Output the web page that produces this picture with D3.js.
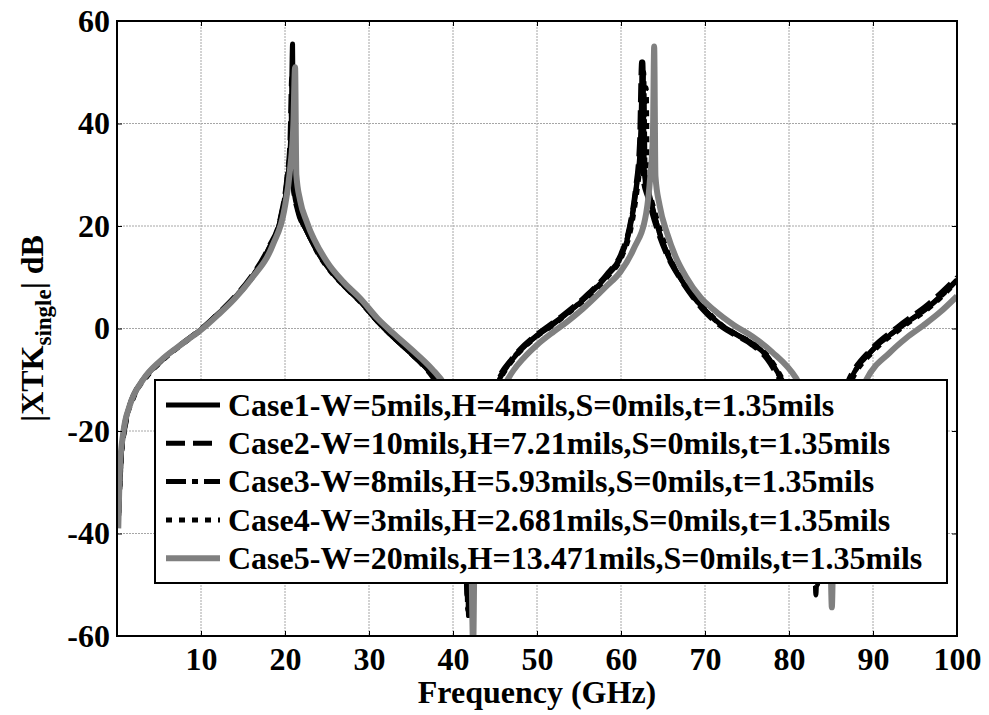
<!DOCTYPE html>
<html>
<head>
<meta charset="utf-8">
<script src="https://cdn.jsdelivr.net/npm/d3@7"></script>
<style>
  body { margin: 0; background: #fff; }
  text { font-family: "Liberation Serif", "Times New Roman", serif; font-weight: bold; fill: #000; }
</style>
</head>
<body>
<div id="chart"></div>
<script>
// values: [frequency GHz, |XTK| dB]
const case1 = [[0.15,-38],[0.4,-27],[0.75,-20.5],[1.5,-15],[3,-10.2],[5,-6.6],[8,-2.7],[10,-0.2],[12,2.8],[14,6],[16,9.9],[18,15.3],[19.5,21.5],[20.3,29],[20.7,37],[20.9,55.5],[21.05,29],[21.6,23],[22.6,19],[24,14.6],[25,12.2],[27,8.4],[29,5.2],[31,1.4],[32.5,-1.1],[35,-4.8],[37.3,-8.6],[39,-12.8],[40.5,-19.5],[41.3,-28],[41.7,-40],[41.85,-56],[42,-40],[42.4,-30],[43.5,-19.5],[45.5,-10],[47,-6.2],[48.5,-3.5],[50,-1.4],[51.6,0.4],[53,2.2],[55.5,5.6],[58.3,10.2],[60,14],[61,19],[61.8,27],[62.3,36],[62.6,52],[62.8,30],[63.4,26],[64.5,19],[65.7,14],[67,10],[68.5,6.5],[70.1,3.4],[72,0.6],[73.5,-0.9],[75.6,-2.9],[77.5,-5.6],[78.9,-9.3],[80.5,-14],[81.8,-20],[82.7,-28],[83.2,-38],[83.4,-50],[83.6,-40],[84.2,-28],[85.5,-18],[87.3,-10],[90,-4.1],[93.2,0.2],[96.8,4.5],[100,9.5]];

const case2 = [[0.2,-36],[0.5,-25],[1,-18.5],[2,-13],[3.5,-9.2],[5.5,-5.9],[8,-2.6],[10,-0.1],[12,2.9],[14,6.2],[16,10.2],[18,15.7],[19.5,22],[20.2,29],[20.6,37],[20.8,49],[20.95,28],[21.5,23],[22.5,19.3],[24,14.9],[25,12.5],[27,8.6],[29,5.4],[31,1.5],[32.5,-1],[35,-4.9],[37.2,-8.7],[39,-13.2],[40.4,-19.5],[41.2,-28],[41.5,-40],[41.65,-52],[41.8,-40],[42.2,-30],[43.3,-19.5],[45.3,-10],[47,-5.9],[48.5,-3.2],[50,-1.1],[51.5,0.7],[53,2.5],[55.5,5.9],[58.3,10.6],[60,14.6],[61,19.8],[61.7,27],[62.2,36],[62.45,52],[62.65,29],[63.2,25.5],[64.3,19.3],[65.5,14.2],[67,9.8],[68.5,6.2],[70,3.2],[72,0.3],[73.5,-1.2],[75.5,-3.1],[77.4,-6],[78.8,-9.7],[80.4,-14.5],[81.7,-20.5],[82.6,-28],[83,-38],[83.2,-52],[83.4,-40],[84,-28],[85.3,-18],[87.1,-10],[89.8,-4],[93,0.4],[96.6,4.8],[100,10]];

const case3 = [[0.2,-36],[0.5,-25.5],[1,-18.8],[2,-13.2],[3.5,-9.4],[5.5,-6],[8,-2.7],[10,-0.2],[12,2.8],[14,6],[16,9.9],[18,15.4],[19.5,21.7],[20.3,30],[20.7,38],[20.85,46],[21,28],[21.6,22.8],[22.6,19],[24,14.6],[25,12.2],[27,8.4],[29,5.2],[31,1.4],[32.5,-1.1],[35,-4.9],[37.3,-8.7],[39,-12.9],[40.5,-19.7],[41.3,-28.5],[41.6,-40],[41.75,-55],[41.9,-40],[42.3,-30],[43.4,-19.5],[45.4,-10],[47,-6.1],[48.5,-3.4],[50,-1.3],[51.5,0.5],[53,2.3],[55.5,5.7],[58.3,10.4],[60,14.3],[61,19.4],[61.8,27.5],[62.4,37],[62.7,50],[62.9,28],[63.5,24.8],[64.6,18.6],[65.7,13.8],[67,10],[68.5,6.4],[70.1,3.4],[72,0.5],[73.5,-1],[75.6,-3],[77.5,-5.7],[78.9,-9.4],[80.5,-14.2],[81.8,-20.2],[82.8,-28.5],[83.2,-38],[83.4,-48],[83.6,-40],[84.2,-28],[85.5,-18],[87.3,-10],[90,-4.1],[93.2,0.2],[96.8,4.4],[100,9.4]];

const case4 = [[0.2,-36.5],[0.5,-25.8],[1,-19],[2,-13.4],[3.5,-9.5],[5.5,-6.1],[8,-2.8],[10,-0.3],[12,2.7],[14,5.9],[16,9.7],[18,15.1],[19.5,21.3],[20.4,30],[20.8,38],[20.95,43],[21.1,28],[21.7,22.6],[22.7,18.8],[24,14.4],[25,12],[27,8.3],[29,5.1],[31,1.4],[32.6,-1.2],[35,-4.9],[37.4,-8.8],[39.1,-13],[40.6,-19.9],[41.4,-29],[41.75,-40],[41.9,-57],[42.05,-40],[42.5,-30],[43.6,-19.5],[45.6,-10],[47.1,-6.2],[48.6,-3.5],[50.1,-1.4],[51.7,0.4],[53.1,2.2],[55.6,5.5],[58.4,10.1],[60.1,14],[61.2,19.6],[62,28],[62.6,37],[63,47],[63.15,28],[63.7,24.7],[64.8,18.5],[65.9,13.5],[67.2,9.8],[68.7,6.3],[70.3,3.3],[72.2,0.4],[73.7,-1.1],[75.8,-3],[77.7,-5.8],[79.1,-9.5],[80.7,-14.3],[82,-20.4],[82.9,-28.5],[83.4,-38],[83.6,-50],[83.8,-40],[84.4,-28],[85.7,-18],[87.5,-10],[90.2,-4.2],[93.4,0.1],[96.9,4.3],[100,9.2]];

const case5 = [[0.15,-39],[0.36,-27],[0.75,-20.3],[1.5,-15.1],[3.1,-10],[5.1,-6.4],[7.9,-2.8],[10,-0.3],[12,2.6],[14,5.8],[15.9,9.5],[18.6,16.5],[19.9,23],[20.6,31],[21,40],[21.2,51],[21.35,30],[21.8,25],[22.6,20.8],[25,13],[27,9],[29,5.8],[31,2],[32.8,-0.8],[35,-4],[37.5,-7.9],[39,-11],[40.6,-17.5],[41.5,-25],[42.1,-36],[42.4,-62],[42.6,-38],[43.2,-28],[44.5,-18],[46.5,-10],[48.5,-5.6],[50,-3.2],[52,-0.6],[53.5,1.2],[55.5,3.9],[58.3,8.3],[59.9,11],[61.5,15.5],[63,22.5],[63.5,30],[63.8,38],[63.95,55],[64.1,29.7],[64.6,24],[65.5,18.5],[66.5,14],[67.7,10.2],[69.5,6],[71,3.7],[73.5,0.6],[75.6,-1.5],[78,-4.6],[80.8,-9.6],[82.5,-15],[83.8,-22],[84.5,-30],[84.9,-40],[85.1,-54.4],[85.3,-40],[86,-28],[87.3,-18],[89.2,-10],[92,-4.7],[94,-1.8],[96,0.6],[98,3.2],[100,6.3]];

const seriesNames = [
  "Case1-W=5mils,H=4mils,S=0mils,t=1.35mils",
  "Case2-W=10mils,H=7.21mils,S=0mils,t=1.35mils",
  "Case3-W=8mils,H=5.93mils,S=0mils,t=1.35mils",
  "Case4-W=3mils,H=2.681mils,S=0mils,t=1.35mils",
  "Case5-W=20mils,H=13.471mils,S=0mils,t=1.35mils"
];
const xTicks = [10, 20, 30, 40, 50, 60, 70, 80, 90, 100];
const yTicks = [-60, -40, -20, 0, 20, 40, 60];

function main() {
  const width = 989, height = 715;
  const margin = {left: 117, top: 21, right: 32, bottom: 79};
  const w = width - margin.left - margin.right;
  const h = height - margin.top - margin.bottom;
  const serif = "'Liberation Serif','Times New Roman',serif";

  const svg = d3.select("#chart").append("svg")
    .attr("width", width).attr("height", height);

  const x = d3.scaleLinear().domain([0, 100]).range([0, w]);
  const y = d3.scaleLinear().domain([-60, 60]).range([h, 0]);

  const g = svg.append("g").attr("transform", `translate(${margin.left},${margin.top})`);

  svg.append("defs").append("clipPath").attr("id", "plotclip")
    .append("rect").attr("width", w).attr("height", h);

  // grid
  g.append("g").selectAll("line").data(xTicks).join("line")
    .attr("x1", d => x(d)).attr("x2", d => x(d)).attr("y1", 0).attr("y2", h)
    .attr("stroke", "#a6a6a6").attr("stroke-dasharray", "2,1");
  g.append("g").selectAll("line").data(yTicks).join("line")
    .attr("x1", 0).attr("x2", w).attr("y1", d => y(d)).attr("y2", d => y(d))
    .attr("stroke", "#a6a6a6").attr("stroke-dasharray", "2,1");

  // curves
  const styles = [
    {color: "#000", width: 5, dash: null},
    {color: "#000", width: 5, dash: "19,8"},
    {color: "#000", width: 5, dash: "20,6,6,6"},
    {color: "#000", width: 5, dash: "6,7"},
    {color: "#808080", width: 6, dash: null}
  ];
  const allSeries = [case1, case2, case3, case4, case5];
  const line = d3.line().x(d => x(d[0])).y(d => y(d[1])).curve(d3.curveMonotoneX);

  const plot = g.append("g").attr("clip-path", "url(#plotclip)");
  allSeries.forEach((s, i) => {
    plot.append("path").datum(s)
      .attr("d", line)
      .attr("fill", "none")
      .attr("stroke", styles[i].color)
      .attr("stroke-width", styles[i].width)
      .attr("stroke-dasharray", styles[i].dash)
      .attr("stroke-linejoin", "round");
  });

  // axes, ticks pointing inwards
  const fmt = d => String(d);
  g.append("g").attr("transform", `translate(0,${h})`)
    .call(d3.axisBottom(x).tickValues(xTicks).tickSize(-5).tickPadding(11).tickFormat(fmt));
  g.append("g").call(d3.axisTop(x).tickValues(xTicks).tickSize(-5).tickFormat(""));
  g.append("g")
    .call(d3.axisLeft(y).tickValues(yTicks).tickSize(-5).tickPadding(7).tickFormat(fmt));
  g.append("g").attr("transform", `translate(${w},0)`)
    .call(d3.axisRight(y).tickValues(yTicks).tickSize(-5).tickFormat(""));
  g.selectAll(".domain").remove();
  g.selectAll(".tick line").attr("stroke", "#000").attr("stroke-width", 1);
  g.selectAll(".tick text").style("font-size", "32px")
    .style("font-family", serif)
    .style("font-weight", "bold");

  g.append("rect").attr("width", w).attr("height", h)
    .attr("fill", "none").attr("stroke", "#000").attr("stroke-width", 2);

  // axis labels
  svg.append("text")
    .attr("x", margin.left + w / 2).attr("y", 703)
    .attr("text-anchor", "middle").style("font-size", "32px")
    .text("Frequency (GHz)");

  const ylab = svg.append("text")
    .attr("transform", `translate(43,${margin.top + h / 2}) rotate(-90)`)
    .attr("text-anchor", "middle").style("font-size", "32px");
  ylab.append("tspan").text("|XTK");
  ylab.append("tspan").attr("dy", 8).style("font-size", "23px").text("single");
  ylab.append("tspan").attr("dy", -8).text("| dB");

  // legend
  const lg = svg.append("g").attr("transform", "translate(155,380)");
  lg.append("rect").attr("width", 792).attr("height", 203)
    .attr("fill", "#fff").attr("stroke", "#000").attr("stroke-width", 2);
  seriesNames.forEach((name, i) => {
    const cy = 25 + i * 38.3;
    lg.append("line")
      .attr("x1", 11).attr("x2", 65).attr("y1", cy).attr("y2", cy)
      .attr("stroke", styles[i].color)
      .attr("stroke-width", styles[i].width)
      .attr("stroke-dasharray", styles[i].dash);
    lg.append("text")
      .attr("x", 73).attr("y", cy).attr("dy", "0.34em")
      .style("font-size", "32px")
      .text(name);
  });
}
main();
</script>
</body>
</html>
